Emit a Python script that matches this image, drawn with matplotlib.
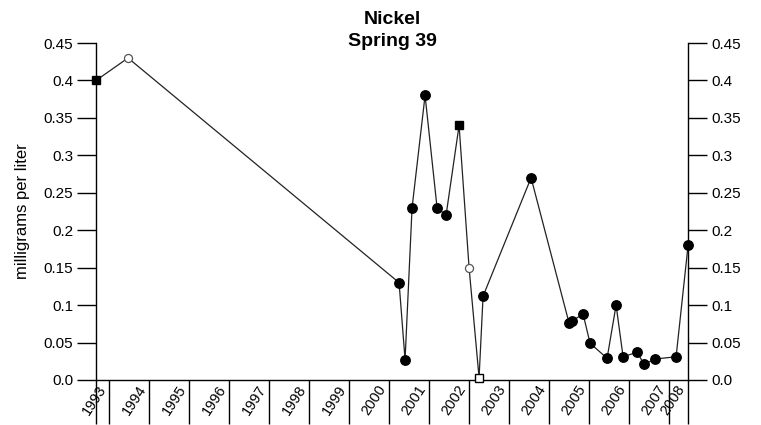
import numpy as np
import matplotlib
matplotlib.use("Agg")
import matplotlib.pyplot as plt

plt.rcParams['font.family'] = ['Liberation Sans', 'DejaVu Sans']

# Sample dates (decimal year on the plot's time axis) and nickel concentration
dates = [1992.675, 1993.475, 2000.25, 2000.40, 2000.575, 2000.90, 2001.20,
         2001.425, 2001.75, 2002.00, 2002.25, 2002.35, 2003.55, 2004.50,
         2004.575, 2004.85, 2005.025, 2005.45, 2005.675, 2005.85, 2006.20,
         2006.375, 2006.65, 2007.175, 2007.475]
nickel = [0.40, 0.43, 0.13, 0.027, 0.23, 0.38, 0.23,
          0.22, 0.34, 0.15, 0.003, 0.112, 0.27, 0.076,
          0.079, 0.088, 0.049, 0.029, 0.10, 0.031, 0.037,
          0.021, 0.028, 0.031, 0.18]
# 'c' filled circle, 's' filled square, 'o' open circle, 'q' open square
kind = ['s', 'o', 'c', 'c', 'c', 'c', 'c',
        'c', 's', 'o', 'q', 'c', 'c', 'c',
        'c', 'c', 'c', 'c', 'c', 'c', 'c',
        'c', 'c', 'c', 'c']

tick_pos = [1993, 1994, 1995, 1996, 1997, 1998, 1999, 2000, 2001, 2002,
            2003, 2004, 2005, 2006, 2007, 2007.475]
tick_lab = ['1993', '1994', '1995', '1996', '1997', '1998', '1999', '2000',
            '2001', '2002', '2003', '2004', '2005', '2006', '2007', '2008']
y_ticks = [0.0, 0.05, 0.1, 0.15, 0.2, 0.25, 0.3, 0.35, 0.4, 0.45]
y_lab = ['0.0', '0.05', '0.1', '0.15', '0.2', '0.25', '0.3', '0.35', '0.4', '0.45']

dates = np.array(dates)
nickel = np.array(nickel)
kind = np.array(kind)

fig = plt.figure(figsize=(7.61, 4.25), dpi=100)
ax = fig.add_axes([0.1262, 0.1059, 0.778, 0.7929])

ax.plot(dates, nickel, '-', color='#222222', linewidth=0.9, zorder=2)

m = kind == 'c'
ax.plot(dates[m], nickel[m], 'o', color='black', markersize=6.8,
        linestyle='none', clip_on=False, zorder=3)
m = kind == 's'
ax.plot(dates[m], nickel[m], 's', color='black', markersize=5.8,
        linestyle='none', clip_on=False, zorder=3)
m = kind == 'o'
ax.plot(dates[m], nickel[m], 'o', markerfacecolor='white',
        markeredgecolor='#555555', markeredgewidth=0.9, markersize=5.8,
        linestyle='none', clip_on=False, zorder=3)
m = kind == 'q'
ax.plot(dates[m], nickel[m], 's', markerfacecolor='white',
        markeredgecolor='black', markeredgewidth=1.0, markersize=6,
        linestyle='none', clip_on=False, zorder=3)

ax.set_xlim(1992.675, 2007.475)
ax.set_ylim(0, 0.45)

ax.set_xticks([1992.675] + tick_pos)
ax.set_xticklabels([''] + tick_lab, rotation=57, ha='right', fontsize=10.5)
ax.tick_params(axis='x', direction='out', length=32, width=1.0, pad=-30)

ax.set_yticks(y_ticks)
ax.set_yticklabels(y_lab, fontsize=11)
ax.tick_params(axis='y', direction='out', length=13.5, width=1.0,
               right=True, labelright=True, pad=3)

ax.spines['top'].set_visible(False)
for s in ['left', 'right', 'bottom']:
    ax.spines[s].set_linewidth(1.0)

ax.set_ylabel('milligrams per liter', fontsize=12)
ax.yaxis.set_label_coords(-0.112, 0.5)

fig.text(392 / 761, 1 - 20 / 425, 'Nickel', ha='center', va='center',
         fontsize=14, fontweight='bold')
fig.text(392 / 761, 1 - 42 / 425, 'Spring 39', ha='center', va='center',
         fontsize=14, fontweight='bold')

fig.savefig('out.png', dpi=100)
